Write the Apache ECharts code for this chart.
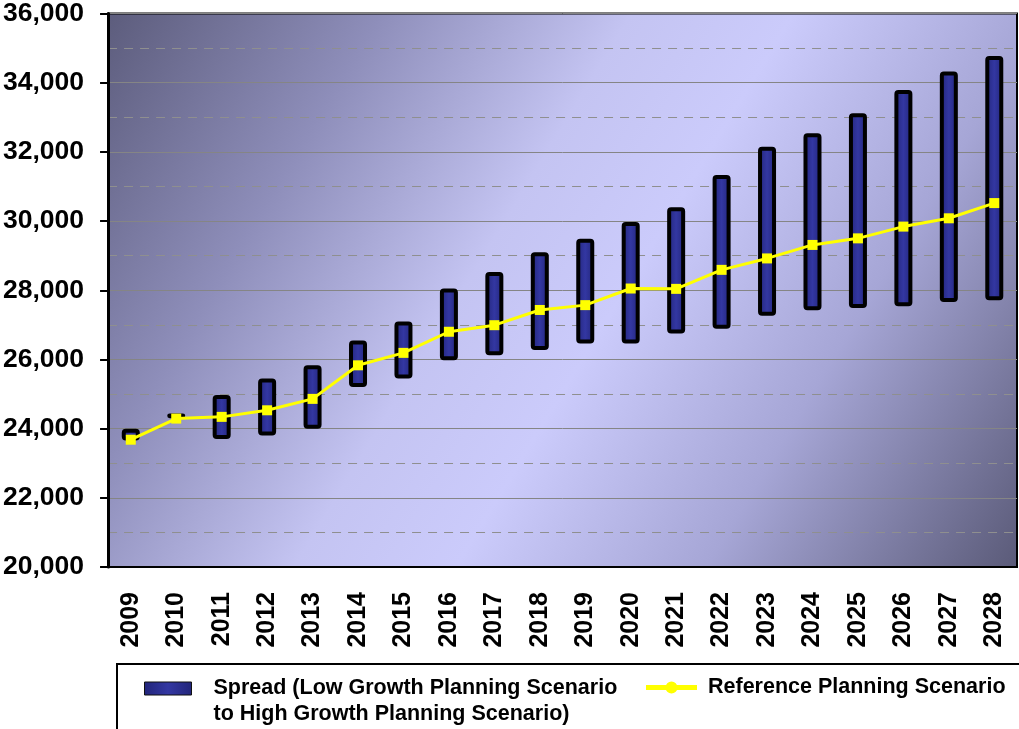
<!DOCTYPE html>
<html>
<head>
<meta charset="utf-8">
<script src="https://cdn.jsdelivr.net/npm/echarts@6/dist/echarts.min.js"></script>
<style>
  html, body { margin: 0; padding: 0; background: #fff; }
  #chart { width: 1019px; height: 729px; }
</style>
</head>
<body>
<div id="chart"></div>
<script>
// Planning horizon years
const years = ['2009','2010','2011','2012','2013','2014','2015','2016','2017','2018',
               '2019','2020','2021','2022','2023','2024','2025','2026','2027','2028'];
// Low growth planning scenario (bottom of spread)
const lowGrowth = [23660, 24300, 23700, 23800, 24000, 25200, 25450, 25980, 26120, 26270,
                   26460, 26460, 26750, 26890, 27260, 27420, 27490, 27540, 27660, 27710];
// High growth planning scenario (top of spread)
const highGrowth = [24000, 24440, 24970, 25450, 25830, 26550, 27100, 28050, 28530, 29100,
                    29490, 29970, 30400, 31330, 32150, 32540, 33120, 33790, 34320, 34770];
// Reference planning scenario
const reference = [23680, 24290, 24340, 24530, 24860, 25830, 26190, 26800, 26990, 27430,
                   27570, 28050, 28040, 28590, 28920, 29310, 29500, 29840, 30080, 30520];

const spreadName = 'Spread (Low Growth Planning Scenario\nto High Growth Planning Scenario)';
const refName = 'Reference Planning Scenario';

// stacked on an invisible base so each bar spans low..high
const spread = highGrowth.map((h, i) => h - lowGrowth[i]);

const chart = echarts.init(document.getElementById('chart'));
const boldFont = '"Liberation Sans", Arial, sans-serif';

// legend glyph for the reference line: thick stroke with a round marker
const lineIcon = 'path://M0 3.5L51 3.5L51 8.5L0 8.5Z' +
                 'M19.5 6A6 6 0 1 1 31.5 6A6 6 0 1 1 19.5 6Z';

chart.setOption({
  animation: false,
  grid: {
    left: 106, right: 2, top: 12, bottom: 162,
    show: true,
    borderColor: '#000',
    borderWidth: 2,
    backgroundColor: new echarts.graphic.LinearGradient(0, 0, 1, 1, [
      { offset: 0, color: '#5c5c7c' },
      { offset: 0.22, color: '#8e8eba' },
      { offset: 0.42, color: '#c4c4f2' },
      { offset: 0.55, color: '#cbcbfb' },
      { offset: 0.75, color: '#a6a6d6' },
      { offset: 1, color: '#5a5a78' }
    ])
  },
  graphic: [{
    type: 'rect',
    shape: { x: 117, y: 664, width: 920, height: 80 },
    style: { fill: '#fff', stroke: '#000', lineWidth: 2 },
    z: 0
  }],
  legend: [{
    data: [spreadName],
    left: 144, top: 649.5,
    padding: 0,
    icon: 'rect',
    itemWidth: 47, itemHeight: 13,
    formatter: name => '\n' + name,
    itemStyle: { borderWidth: 1, borderColor: '#111' },
    textStyle: {
      fontFamily: boldFont, fontWeight: 'bold', fontSize: 21.5, color: '#000',
      lineHeight: 26, padding: [0, 0, 0, 17]
    }
  }, {
    data: [{ name: refName, icon: lineIcon }],
    left: 646, top: 674.5,
    padding: 0,
    icon: lineIcon,
    itemWidth: 51, itemHeight: 12,
    lineStyle: { width: 5 },
    textStyle: {
      fontFamily: boldFont, fontWeight: 'bold', fontSize: 21.5, color: '#000',
      lineHeight: 26, padding: [0, 0, 0, 6]
    }
  }],
  xAxis: {
    type: 'category',
    data: years,
    axisLine: { lineStyle: { color: '#000', width: 2 } },
    axisTick: { length: 10, lineStyle: { color: '#000', width: 2 } },
    axisLabel: {
      rotate: 90, margin: 25, color: '#000',
      fontFamily: boldFont, fontWeight: 'bold', fontSize: 25
    },
    splitLine: { show: false }
  },
  yAxis: {
    type: 'value',
    min: 20000, max: 36000, interval: 2000,
    axisLine: { show: true, lineStyle: { color: '#000', width: 3 } },
    axisTick: { show: true, length: 8, lineStyle: { color: '#000', width: 2 } },
    axisLabel: {
      margin: 24, color: '#000',
      fontFamily: boldFont, fontWeight: 'bold', fontSize: 26.5,
      padding: [5, 0, 0, 0],
      formatter: v => v.toLocaleString('en-US')
    },
    splitLine: { show: true, lineStyle: { color: '#858585', width: 1 } },
    minorTick: { show: false, splitNumber: 2 },
    minorSplitLine: { show: true, lineStyle: { color: '#8f8f8f', width: 1, type: [9, 7] } }
  },
  series: [{
    name: 'base',
    type: 'bar',
    stack: 'range',
    data: lowGrowth,
    barWidth: 18,
    itemStyle: { color: 'transparent' },
    silent: true
  }, {
    name: spreadName,
    type: 'bar',
    stack: 'range',
    data: spread,
    barWidth: 18,
    itemStyle: {
      color: new echarts.graphic.LinearGradient(0, 0, 1, 0, [
        { offset: 0, color: '#22257a' },
        { offset: 0.5, color: '#3337a2' },
        { offset: 1, color: '#22257a' }
      ]),
      borderColor: '#000',
      borderWidth: 4,
      borderRadius: 2
    }
  }, {
    name: refName,
    type: 'line',
    data: reference,
    z: 5,
    symbol: 'rect',
    symbolSize: 10,
    legendIcon: lineIcon,
    lineStyle: { color: '#ffff00', width: 3 },
    itemStyle: { color: '#ffff00' }
  }]
});
</script>
</body>
</html>
